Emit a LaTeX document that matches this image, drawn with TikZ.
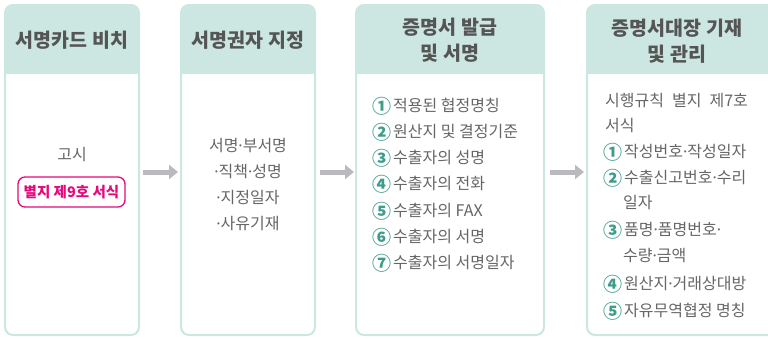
\documentclass[tikz,border=0pt]{standalone}
\usepackage{fontspec}
\setmainfont{Noto Sans CJK KR}
\newfontfamily\latinfont{Noto Sans}
\usetikzlibrary{arrows.meta}
\definecolor{hdr}{HTML}{CCE7E1}
\definecolor{hdrtxt}{HTML}{555555}
\definecolor{bodytxt}{HTML}{666666}
\definecolor{circ}{HTML}{3E9C8A}
\definecolor{pink}{HTML}{E4097F}
\definecolor{arr}{HTML}{B9BABD}
\tikzset{
  panel/.style={draw=hdr, line width=2pt, rounded corners=8pt},
  htext/.style={font=\fontsize{19.5}{26}\selectfont\bfseries, text=hdrtxt, align=center},
  btext/.style={font=\fontsize{16}{26}\selectfont, text=bodytxt},
  lline/.style={btext, anchor=west, inner sep=0pt},
  flowarrow/.style={arr, line width=5pt, -{Triangle[length=9pt,width=14pt]}},
}
\newcommand{\cn}[1]{{\color{circ}\fontsize{19}{20}\selectfont\bfseries\raisebox{-1.3pt}{#1}}\kern2pt}
\newcommand{\md}{{\latinfont\fontsize{16}{20}\selectfont ·}}
\begin{document}
\begin{tikzpicture}[x=1pt,y=-1pt]
\useasboundingbox (0,0) rectangle (768,338);
% panels
\foreach \l/\r in {5/139,181/315,356/544,587/790}{
  \fill[white, rounded corners=8pt] (\l,5) rectangle (\r,335);
  \begin{scope}
    \clip[rounded corners=8pt] (\l,5) rectangle (\r,335);
    \fill[hdr] (\l,5) rectangle (\r,74);
  \end{scope}
  \draw[panel] (\l,5) rectangle (\r,335);
}
% headers
\node[htext] (h1) at (72,40) {서명카드 비치};
\node[htext] (h2) at (248,40) {서명권자 지정};
\node[htext] (h3) at (450,40) {증명서 발급\\및 서명};
\node[htext] (h4) at (677,41) {증명서대장 기재\\및 관리};
% box 1
\node[btext] (t1) at (72,155) {고시};
\node[draw=pink, line width=1.3pt, rounded corners=7pt, text=pink,
  font=\fontsize{14.5}{16}\selectfont\bfseries, minimum width=107pt, minimum height=30pt, inner sep=1pt]
  (badge) at (71.5,192) {별지 제9호 서식};
% box 2
\node[btext] (b1) at (248,146) {서명\md 부서명};
\node[btext] (b2) at (248,172) {\md 직책\md 성명};
\node[btext] (b3) at (248,198) {\md 지정일자};
\node[btext] (b4) at (248,224) {\md 사유기재};
% box 3
\node[lline] (c1) at (372,106) {\cn{①}적용된 협정명칭};
\node[lline] (c2) at (372,132) {\cn{②}원산지 및 결정기준};
\node[lline] (c3) at (372,158) {\cn{③}수출자의 성명};
\node[lline] (c4) at (372,184) {\cn{④}수출자의 전화};
\node[lline] (c5) at (372,211) {\cn{⑤}수출자의 FAX};
\node[lline] (c6) at (372,237) {\cn{⑥}수출자의 서명};
\node[lline] (c7) at (372,263) {\cn{⑦}수출자의 서명일자};
% box 4
\node[lline] (a1) at (605,100) {시행규칙 \;별지 \;제7호};
\node[lline] (a2) at (605,126) {서식};
\node[lline] (a3) at (603,152) {\cn{①}작성번호\md 작성일자};
\node[lline] (a4) at (603,178) {\cn{②}수출신고번호\md 수리};
\node[lline] (a5) at (623,203) {일자};
\node[lline] (a6) at (603,230) {\cn{③}품명\md 품명번호\md};
\node[lline] (a7) at (623,256) {수량\md 금액};
\node[lline] (a8) at (603,284) {\cn{④}원산지\md 거래상대방};
\node[lline] (a9) at (603,311) {\cn{⑤}자유무역협정 명칭};
% arrows
\coordinate (p1e) at (143,172); \coordinate (p2s) at (178,172);
\coordinate (p2e) at (320,172); \coordinate (p3s) at (354,172);
\coordinate (p3e) at (550,172); \coordinate (p4s) at (584,172);
\draw[flowarrow] (p1e) -- (p2s);
\draw[flowarrow] (p2e) -- (p3s);
\draw[flowarrow] (p3e) -- (p4s);
\end{tikzpicture}
\end{document}
